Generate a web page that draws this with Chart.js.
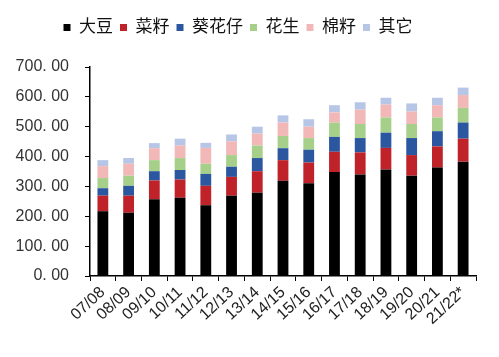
<!DOCTYPE html>
<html><head><meta charset="utf-8">
<script src="https://cdn.jsdelivr.net/npm/chart.js@4.4.0/dist/chart.umd.min.js"></script>
<style>html,body{margin:0;padding:0;background:#fff}#w{width:499px;height:357px}</style>
</head><body><div id="w"><canvas id="c"></canvas></div>
<script>
const categories = ["07/08","08/09","09/10","10/11","11/12","12/13","13/14","14/15","15/16","16/17","17/18","18/19","19/20","20/21","21/22*"];
const soybean   = [217,212,257,262,237,269,279,319,311,348,340,357,336,363,383];
const rapeseed  = [52,57,63,61,65,63,72,69,69,68,74,72,69,71,77];
const sunflower = [25,33,31,32,40,34,44,40,43,50,48,51,57,51,54];
const peanut    = [34,34,37,40,34,39,42,41,39,48,47,51,47,46,49];
const cotton    = [40,40,40,42,53,46,40,45,38,34,48,43,42,41,43];
const other     = [20,19,17,23,17,23,23,24,25,24,25,23,27,25,25];
const seriesNames = ["大豆","菜籽","葵花仔","花生","棉籽","其它"];
const yTicks = [0,100,200,300,400,500,600,700];

const colors = ["#000000","#C0222A","#2B57A0","#A6D08A","#F2B8B8","#B7C6E6"];
const data = [soybean,rapeseed,sunflower,peanut,cotton,other];
const FONT = "'Liberation Sans','Noto Sans CJK SC',sans-serif";

const legendMargin = {
  id:'legendMargin',
  beforeInit(chart){
    const orig = chart.legend.fit;
    chart.legend.fit = function(){ orig.bind(chart.legend)(); this.height += 21; };
  }
};

new Chart(document.getElementById('c'), {
  type: 'bar',
  data: {
    labels: categories,
    datasets: seriesNames.map((n,i)=>({label:n,data:data[i],backgroundColor:colors[i],borderWidth:0,barPercentage:0.42,categoryPercentage:1}))
  },
  plugins:[legendMargin],
  options: {
    responsive:true, maintainAspectRatio:false, animation:false,
    layout:{padding:{left:0,right:23,top:12,bottom:0}},
    plugins:{
      legend:{position:'top',labels:{boxWidth:7,boxHeight:7,padding:7,color:'#111',font:{family:FONT,size:17}}},
      tooltip:{enabled:false}
    },
    scales:{
      x:{stacked:true,
        grid:{display:true,drawOnChartArea:false,color:'#000',tickLength:5,offset:true},
        border:{display:true,color:'#000',width:1.5},
        ticks:{color:'#222',font:{family:FONT,size:16},minRotation:43,maxRotation:43,padding:2,autoSkip:false},
        afterFit(s){s.height=81;}
      },
      y:{stacked:true,min:0,max:700,
        afterBuildTicks(s){s.ticks=yTicks.map(v=>({value:v}));},
        grid:{display:true,drawOnChartArea:false,color:'#000',tickLength:5},
        border:{display:true,color:'#000',width:1.5},
        ticks:{color:'#333',font:{family:FONT,size:16},padding:16,callback:v=>v.toFixed(2).replace('.','. ')},
        afterFit(s){s.width=90;}
      }
    }
  }
});
</script></body></html>
